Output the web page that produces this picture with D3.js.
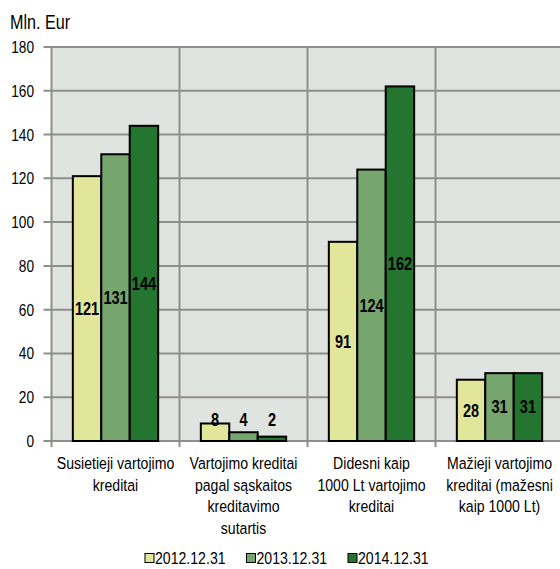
<!DOCTYPE html>
<html lang="en">
<head>
<meta charset="UTF-8" />
<title>Vartojimo kreditai</title>
<script src="https://d3js.org/d3.v7.min.js"></script>
<style>
    body { margin: 0; background: #ffffff; }
    svg text { font-family: "Liberation Sans", Arial, sans-serif; fill: #000; }
</style>
</head>
<body>
<div id="chart"></div>
<script>
    // data
    const categories = [
        ["Susietieji vartojimo", "kreditai"],
        ["Vartojimo kreditai", "pagal sąskaitos", "kreditavimo", "sutartis"],
        ["Didesni kaip", "1000 Lt vartojimo", "kreditai"],
        ["Mažieji vartojimo", "kreditai (mažesni", "kaip 1000 Lt)"]
    ];
    const seriesNames = ["2012.12.31", "2013.12.31", "2014.12.31"];
    const values2012 = [121, 8, 91, 28];
    const values2013 = [131, 4, 124, 31];
    const values2014 = [144, 2, 162, 31];
    const yTicks = [0, 20, 40, 60, 80, 100, 120, 140, 160, 180];
    const colors = ["#e1e69b", "#76a56e", "#23752f"];

    const width = 560, height = 569;
    const plotLeft = 51.5, plotRight = 563.5, plotTop = 47, plotBottom = 441;
    const squeeze = 0.83; // the original font is a condensed one

    const svg = d3.select("#chart").append("svg")
        .attr("width", width)
        .attr("height", height);

    const at = (px, py) => `translate(${px},${py}) scale(${squeeze},1)`;

    const x = d3.scaleBand()
        .domain(d3.range(categories.length))
        .range([plotLeft, plotRight])
        .padding(0);

    const xSub = d3.scaleBand()
        .domain(d3.range(seriesNames.length))
        .range([0, x.bandwidth()])
        .paddingInner(0)
        .paddingOuter(0.75);

    const y = d3.scaleLinear()
        .domain([0, 180])
        .range([plotBottom, plotTop]);

    // plot background
    svg.append("rect")
        .attr("x", plotLeft).attr("y", plotTop)
        .attr("width", plotRight - plotLeft).attr("height", plotBottom - plotTop)
        .attr("fill", "#e0e4e0");

    // horizontal grid + ticks
    svg.append("g")
        .selectAll("line")
        .data(yTicks)
        .join("line")
        .attr("x1", plotLeft - 8).attr("x2", plotRight)
        .attr("y1", d => y(d)).attr("y2", d => y(d))
        .attr("stroke", "#8e8e8e")
        .attr("stroke-width", 2);

    // vertical category separators
    svg.append("g")
        .selectAll("line")
        .data(d3.range(categories.length + 1))
        .join("line")
        .attr("x1", d => plotLeft + d * x.step()).attr("x2", d => plotLeft + d * x.step())
        .attr("y1", plotTop).attr("y2", plotBottom + 6)
        .attr("stroke", "#8e8e8e")
        .attr("stroke-width", 2);

    // y labels
    svg.append("g")
        .selectAll("text")
        .data(yTicks)
        .join("text")
        .attr("transform", d => at(34, y(d)))
        .attr("dy", "0.36em")
        .attr("text-anchor", "end")
        .style("font-size", "16.5px")
        .text(d => d);

    svg.append("text")
        .attr("transform", at(10, 29))
        .style("font-size", "19.5px")
        .text("Mln. Eur");

    // bars
    const series = [values2012, values2013, values2014];
    const barData = [];
    series.forEach((vals, s) => {
        vals.forEach((v, c) => barData.push({ c, s, v }));
    });

    svg.append("g")
        .selectAll("rect")
        .data(barData)
        .join("rect")
        .attr("x", d => x(d.c) + xSub(d.s))
        .attr("y", d => y(d.v))
        .attr("width", xSub.bandwidth())
        .attr("height", d => y(0) - y(d.v))
        .attr("fill", d => colors[d.s])
        .attr("stroke", "#000")
        .attr("stroke-width", 2);

    // value labels
    svg.append("g")
        .selectAll("text")
        .data(barData)
        .join("text")
        .attr("transform", d => at(x(d.c) + xSub(d.s) + xSub.bandwidth() / 2,
            Math.min((y(d.v) + y(0)) / 2, y(0) - 21)))
        .attr("dy", "0.36em")
        .attr("text-anchor", "middle")
        .style("font-size", "17.5px")
        .style("font-weight", "bold")
        .text(d => d.v);

    // category labels
    const catLines = [];
    categories.forEach((lines, i) => lines.forEach((line, j) => catLines.push({ line, i, j })));

    svg.append("g")
        .selectAll("text")
        .data(catLines)
        .join("text")
        .attr("transform", d => at(x(d.i) + x.bandwidth() / 2, 469 + d.j * 21.5))
        .attr("text-anchor", "middle")
        .style("font-size", "17px")
        .text(d => d.line);

    // legend
    const legend = svg.append("g")
        .selectAll("g")
        .data(seriesNames)
        .join("g")
        .attr("transform", (d, i) => `translate(${145 + i * 101.5},558)`);

    legend.append("rect")
        .attr("x", 0).attr("y", -4.5)
        .attr("width", 9).attr("height", 9)
        .attr("fill", (d, i) => colors[i])
        .attr("stroke", "#000")
        .attr("stroke-width", 1);

    legend.append("text")
        .attr("transform", at(10, 0))
        .attr("dy", "0.36em")
        .style("font-size", "17px")
        .text(d => d);
</script>
</body>
</html>
